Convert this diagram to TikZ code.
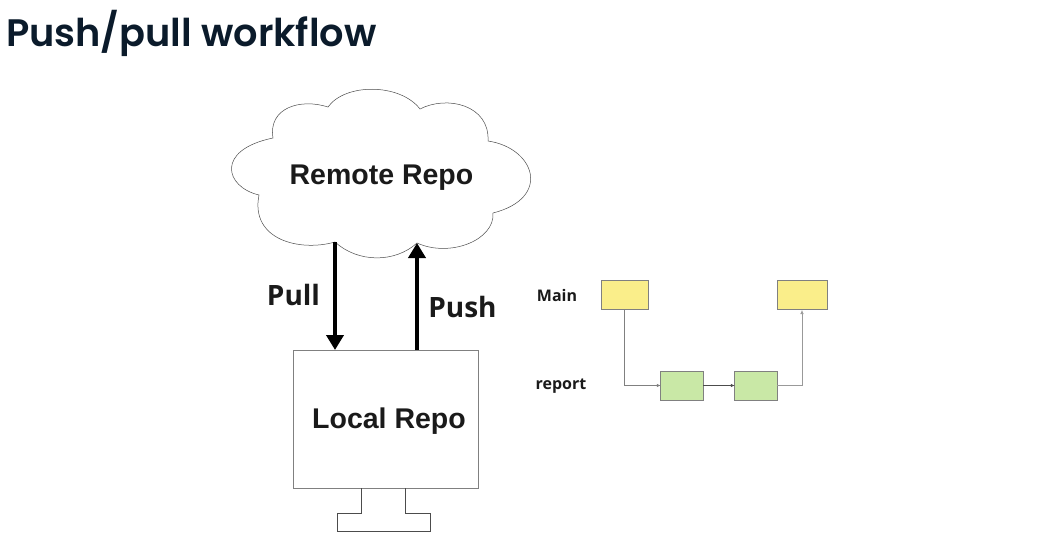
\documentclass[tikz,border=0pt]{standalone}
\usepackage{fontspec}
\setmainfont{Liberation Sans}
\newfontfamily\titlefont{Poppins}[BoldFont={Poppins SemiBold}]
\newfontfamily\labelfont{Open Sans}
\usetikzlibrary{arrows.meta,positioning}
\definecolor{titlec}{HTML}{0B1B2B}
\definecolor{mainc}{HTML}{FAEE8A}
\definecolor{reportc}{HTML}{C9E8A6}
\definecolor{inkc}{HTML}{1A1A1A}

\begin{document}
\begin{tikzpicture}[
  x=1pt, y=-1pt,
  repo/.style     = {font=\bfseries\fontsize{28.5}{31}\selectfont, text=inkc, inner sep=0pt},
  action/.style   = {font=\labelfont\bfseries\fontsize{28}{31}\selectfont, text=inkc, inner sep=0pt},
  branch/.style   = {font=\labelfont\bfseries\fontsize{16}{19}\selectfont, text=inkc, inner sep=0pt},
  commitM/.style  = {rectangle, draw=black!50, line width=.5pt, fill=mainc, inner sep=0pt,
                     outer sep=0pt, minimum height=29pt},
  commitR/.style  = {rectangle, draw=black!50, line width=.6pt, fill=reportc, inner sep=0pt,
                     outer sep=0pt, minimum height=29pt, minimum width=42.5pt},
  outline/.style  = {draw=black!70, line width=.5pt},
  arBig/.style    = {-{Triangle[length=15pt,width=17pt]}, draw=black, line width=4.5pt},
  arSmall/.style  = {-{Latex[length=4pt,width=3.5pt]}, draw=black!70, line width=.6pt},
]
\useasboundingbox (0,0) rectangle (1039,535);

% ── title ──
\node[font=\titlefont\bfseries\fontsize{38.3}{41}\selectfont, text=titlec, inner sep=0pt,
      anchor=west] (title) at (6,33) {Push/pull workflow};

% ── remote ──
\coordinate (pullTop) at (335,242);
\coordinate (pushTop) at (417,243);
\draw[outline] (pullTop)
  .. controls (300,252) and (250,240) .. (259,195)
  .. controls (225,187) and (215,150) .. (273,138)
  .. controls (268,108) and (300,98) .. (328,107)
  .. controls (345,83) and (400,83) .. (420,109)
  .. controls (447,95) and (490,105) .. (488,141)
  .. controls (535,148) and (552,198) .. (493,213)
  .. controls (495,240) and (450,258) .. (417,243)
  .. controls (395,263) and (358,263) .. (pullTop) -- cycle;
\node[repo] (remote) at (381.5,178) {Remote Repo};

% ── local ──
\node[rectangle, draw=black!50, line width=.7pt, inner sep=0pt, outer sep=0pt,
      minimum width=185pt, minimum height=138pt] (local) at (385.75,419) {};
\node[repo] (localText) at (389,421) {Local Repo};
\coordinate (standL) at (361,488);
\coordinate (standR) at (405,488);
\draw[outline] (standL) -- (361,513) -- (337,513) -- (337,531) -- (430,531)
  -- (430,513) -- (405,513) -- (standR);

\draw[arBig] (pullTop) -- (pullTop |- local.north);
\draw[arBig] (pushTop |- local.north) -- (pushTop);
\node[action] (pull) at (293.5,295) {Pull};
\node[action] (push) at (462.5,307) {Push};

% ── branches ──
\node[branch] (main) at (557,295) {Main};
\node[branch] (report) at (561,386) {report};
\node[commitM, minimum width=47pt] (m1) at (624.5,294.5) {};
\node[commitM, minimum width=50pt] (m2) at (802,294.5) {};
\node[commitR] (r1) at (682,385.5) {};
\node[commitR, right=31.5pt of r1] (r2) {};

\draw[arSmall, draw=black!50] (m1.south) |- (r1.west);
\draw[arSmall] (r1) -- (r2);
\draw[arSmall, draw=black!40] (r2.east) -| ([yshift=-1pt]m2.south);
\end{tikzpicture}
\end{document}
